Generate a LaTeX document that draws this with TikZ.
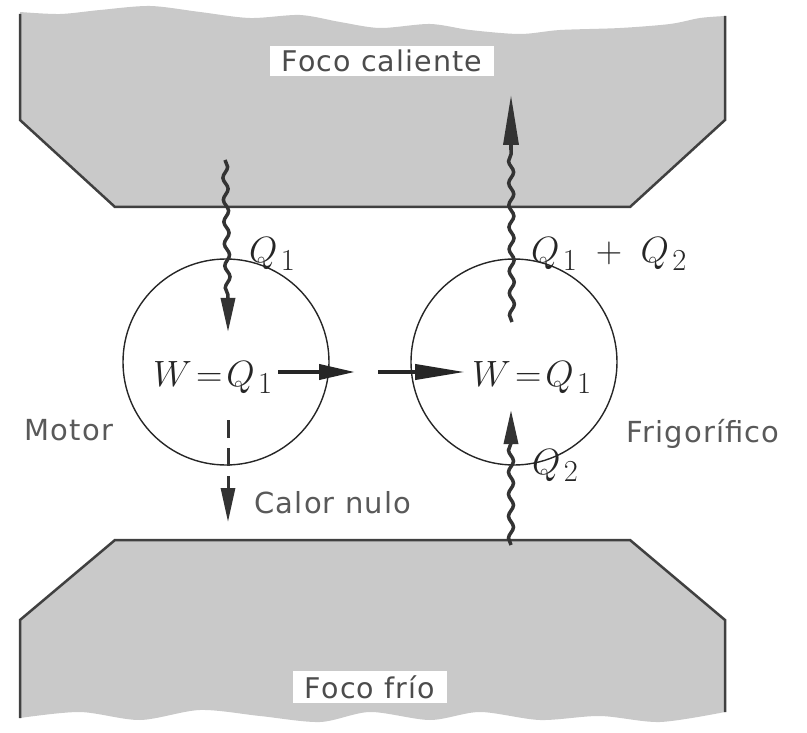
\documentclass[tikz,border=0pt]{standalone}
\usepackage{fontspec}
\newfontfamily\labfont[LetterSpace=4]{DejaVu Sans}
\usetikzlibrary{decorations.pathmorphing,arrows.meta}
\begin{document}
\begin{tikzpicture}[x=1pt,y=-1pt,
  block/.style={fill=black!21},
  edge/.style={draw=black!75,line width=2.5pt,line join=miter},
  lbl/.style={fill=white,inner xsep=12pt,inner ysep=4pt,font=\labfont\fontsize{28.5}{30}\selectfont,text=black!70},
  side/.style={font=\labfont\fontsize{29}{32}\selectfont,text=black!65},
  mth/.style={font=\fontsize{24.88}{30}\selectfont,scale=1.47,text=black!85},
  ring/.style={draw=black!85,line width=1.4pt,circle,minimum size=206pt,inner sep=0pt},
  wavy/.style={draw=black!80,line width=3.5pt,decorate,decoration={snake,amplitude=2.5pt,segment length=22pt}},
  heat/.style={-{Triangle[length=34pt,width=14pt]},draw=black!80,line width=3.5pt},
  work/.style={draw=black!85,line width=4pt},
]
\useasboundingbox (0,0) rectangle (807,733);
% hot reservoir
\fill[block] plot[smooth] coordinates {(20,12)(60,14)(100,10)(150,6)(200,12)(250,18)(300,15)(340,22)(380,28)(430,24)(470,30)(520,34)(560,30)(620,28)(670,24)(700,18)(725,16)} -- (725,120) -- (630,207) -- (115,207) -- (20,120) -- cycle;
\draw[edge] (20,14) -- (20,120) -- (115,207) -- (630,207) -- (725,120) -- (725,16);
% cold reservoir
\fill[block] (20,620) -- (115,540) -- (630,540) -- (725,620) -- (725,712) -- plot[smooth] coordinates {(725,712)(660,722)(600,716)(540,720)(480,712)(430,720)(370,712)(320,722)(260,716)(200,710)(140,720)(80,712)(20,718)} -- cycle;
\draw[edge] (20,718) -- (20,620) -- (115,540) -- (630,540) -- (725,620) -- (725,712);
% labels of reservoirs
\node[lbl] (hot) at (382,61) {Foco\ caliente};
\node[lbl] (cold) at (370,687) {Foco\ frío};
% engines
\node[ring] (motor) at (226,362) {};
\node[ring] (frig) at (514,362) {};
\node[mth,anchor=base west] (wm) at (148,386) {$W\!=\!Q_{\mkern2mu 1}$};
\node[mth,anchor=base west] (wf) at (467,386) {$W\!=\!Q_{\mkern2mu 1}$};
% coordinates
\coordinate (q1s) at (225,160);
\coordinate (q1m) at (228,298);
\coordinate (q1e) at (228,332);
\coordinate (qqs) at (512,322);
\coordinate (qqm) at (511,150);
\coordinate (qqe) at (511,95);
\coordinate (q2s) at (511,545);
\coordinate (q2m) at (511,442);
\coordinate (q2e) at (511,410);
\coordinate (w1s) at (278,372);
\coordinate (w1e) at (355,372);
\coordinate (w2s) at (378,372);
\coordinate (w2e) at (465,372);
\coordinate (c1s) at (228,420);
\coordinate (c1e) at (228,522);
% heat flows
\draw[wavy] (q1s) -- (q1m);
\draw[heat] (q1m) -- (q1e);
\draw[wavy] (qqs) -- (qqm);
\draw[heat,-{Triangle[length=50pt,width=15pt]}] (qqm) -- (qqe);
\draw[wavy] (q2s) -- (q2m);
\draw[heat] (q2m) -- (q2e);
% work
\draw[work,-{Triangle[length=36pt,width=15pt]}] (w1s) -- (w1e);
\draw[work,-{Triangle[length=50pt,width=15pt]}] (w2s) -- (w2e);
% null heat
\draw[heat,dash pattern=on 18pt off 10pt,line width=3pt] (c1s) -- (c1e);
% labels
\node[mth,anchor=base west] (lq1) at (244,263) {$Q_{\mkern2mu 1}$};
\node[mth,anchor=base west] (lqq) at (526,263) {$Q_{\mkern2mu 1}\;+\;Q_{\mkern2mu 2}$};
\node[mth,anchor=base west] (lq2) at (527,474) {$Q_{\mkern2mu 2}$};
\node[side,anchor=base west] (cn) at (251,513) {Calor\ nulo};
\node[side,anchor=base west] (mo) at (21,440) {Motor};
\node[side,anchor=base west] (fr) at (623,442) {Frigorífico};
\end{tikzpicture}
\end{document}
